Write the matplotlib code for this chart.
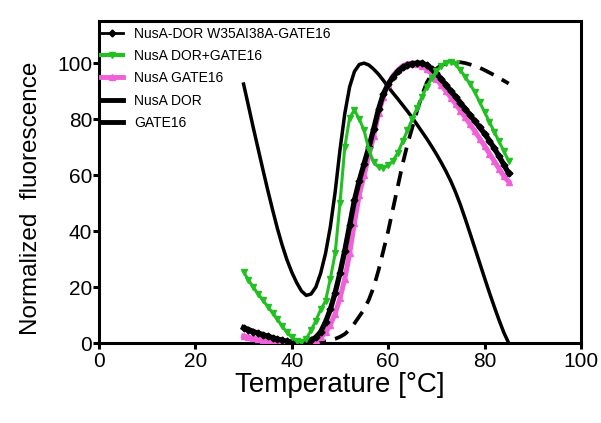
import matplotlib
matplotlib.use("Agg")
import matplotlib.pyplot as plt
from matplotlib.lines import Line2D

plt.rcParams['font.family'] = ['Liberation Sans', 'DejaVu Sans']

temp = list(range(30, 86))

nusa_dor = [92.5, 84.8, 77, 69.5, 62, 54.7, 47.7, 41, 35, 29.7, 25.3, 21.6, 18.6, 17, 17.5, 20, 25, 32, 41.5, 54, 69,
            82, 91.5, 97, 99.5, 100, 99.3, 97.8, 96, 93.8, 91.5, 89.3, 87.2, 85, 82.8, 80.5, 78, 75.5, 73, 70.3, 67.5,
            64.5, 61.3, 57.8, 53.8, 49.3, 44.3, 39.1, 33.8, 28.5, 23.2, 18, 13, 8.2, 3.7, 0]

w35 = [5.5, 4.8, 4.1, 3.5, 3.0, 2.4, 1.9, 1.4, 1.0, 0.6, 0.3, 0.1, 0.0, 0.3, 1.0, 2.0, 4.0, 7.5, 12, 18, 25, 33, 42, 51, 58,
       64, 70, 76.5, 83.5, 89, 92.5, 95, 97, 98.5, 99.3, 99.8, 100, 100, 99.3, 98, 96.3, 94.3, 92.2, 90, 88, 85.8, 83.6,
       81.4, 79.2, 77, 74.8, 72.3, 69.6, 66.7, 63.7, 60.6]

nusa_gate16 = [2.5, 2.1, 1.7, 1.4, 1.1, 0.8, 0.6, 0.4, 0.2, 0.1, 0.0, 0.0, 0.0, 0.1, 0.4, 1.0, 2.0, 3.8, 6.5, 10.5, 16, 23,
               32, 43, 53, 60, 67, 74, 82, 88, 92.5, 95.5, 97.5, 99, 99.8, 100, 99.8, 99, 97.8, 96.2, 94.3, 92.2, 90, 87.7,
               85.4, 83, 80.6, 78.1, 75.6, 73, 70.4, 67.7, 65, 62.3, 59.6, 57.6]

dor_gate16 = [25.5, 22.5, 20, 17.5, 15.3, 13, 10.8, 8.5, 6, 3.8, 2, 0.8, 0.5, 1.5, 4.5, 8, 12, 15, 23, 32, 50, 70, 80.5,
              83.2, 80, 76, 69, 64.5, 62.8, 62.5, 63.5, 65, 68, 72, 76, 80, 84, 88, 91.5, 94.5, 97, 99, 100.2, 100.5, 99.5,
              97.5, 95, 92.5, 89.5, 86, 82.5, 79, 75.5, 72, 68.5, 65]

gate16_temp = list(range(44, 86))
gate16 = [0, 0.1, 0.3, 0.6, 1.0, 1.5, 2.2, 3.2, 4.8, 7, 9.5, 12, 15.5, 20, 26, 33, 40, 48, 56, 64, 71, 77, 83, 88.5, 93,
          96, 98, 99.2, 99.8, 100, 100.2, 100.3, 100, 99.5, 99, 98.3, 97.5, 96.6, 95.7, 94.7, 93.7, 92.7]

labels = ["NusA-DOR W35AI38A-GATE16", "NusA DOR+GATE16", "NusA GATE16", "NusA DOR", "GATE16"]
x_ticks = [0, 20, 40, 60, 80, 100]
y_ticks = [0, 20, 40, 60, 80, 100]

green = '#22c022'
magenta = '#f060d8'

fig = plt.figure(figsize=(6.01, 4.23), dpi=100)
ax = fig.add_axes([0.1647, 0.1891, 0.802, 0.761])

ax.plot(gate16_temp, gate16, color='black', lw=2.7, ls=(0, (4, 2.5)), zorder=2)
ax.plot(temp, nusa_dor, color='black', lw=2.5, zorder=3)
ax.plot(temp, nusa_gate16, color=magenta, lw=3.6, marker='^', ms=4.5, mec=magenta, zorder=4)
ax.plot(temp, w35, color='black', lw=3.8, marker='D', ms=3.5, zorder=5)
ax.plot(temp, dor_gate16, color=green, lw=2.2, marker='v', ms=4, mec=green, zorder=6)

ax.set_xlim(0, 100)
ax.set_ylim(0, 115)
ax.set_xticks(x_ticks)
ax.set_yticks(y_ticks)
for s in ax.spines.values():
    s.set_linewidth(2.2)
ax.tick_params(axis='both', which='both', direction='out', length=4, width=2.2, labelsize=15, pad=1,
               top=False, right=False)
ax.tick_params(axis='x', pad=2.5)
ax.set_xlabel("Temperature [\u00b0C]", fontsize=20, labelpad=1)
ax.set_ylabel("Normalized  fluorescence", fontsize=17.5)
ax.yaxis.set_label_coords(-0.118, 0.45)

handles = [
    Line2D([0, 0.5, 1], [0, 0, 0], color='black', lw=2, marker='D', ms=3.5, markevery=[1]),
    Line2D([0, 0.5, 1], [0, 0, 0], color=green, lw=3, marker='v', ms=4, markevery=[1]),
    Line2D([0, 0.5, 1], [0, 0, 0], color=magenta, lw=3.5, marker='^', ms=4, markevery=[1]),
    Line2D([0, 1], [0, 0], color='black', lw=3.5),
    Line2D([0, 1], [0, 0], color='black', lw=3.5),
]
ax.legend(handles, labels, loc='upper left', bbox_to_anchor=(-0.008, 1.0), frameon=False,
          fontsize=10, handlelength=1.6, handletextpad=0.8, labelspacing=0.6, borderaxespad=0.2,
          borderpad=0.2)

fig.savefig("out.png", dpi=100)
